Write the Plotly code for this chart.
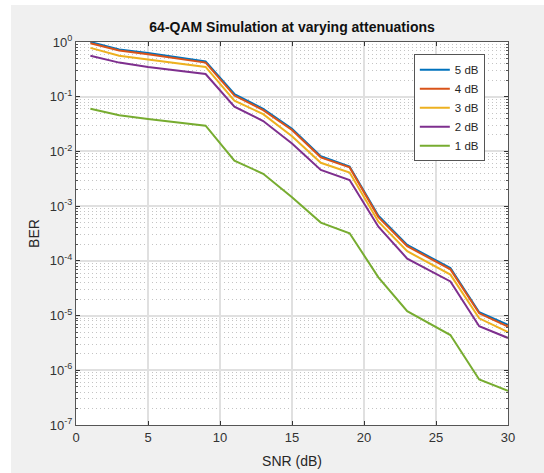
import plotly.graph_objects as go

snr = [1, 3, 5, 9, 11, 13, 15, 17, 19, 21, 23, 26, 28, 30]
ber_5db = [1.0, 0.73, 0.63, 0.44, 0.112, 0.060, 0.026, 0.0082, 0.0053, 6.7e-4, 1.95e-4, 7.4e-5, 1.15e-5, 6.8e-6]
ber_4db = [0.95, 0.70, 0.60, 0.42, 0.105, 0.057, 0.0246, 0.0078, 0.0051, 6.3e-4, 1.85e-4, 7.0e-5, 1.1e-5, 6.3e-6]
ber_3db = [0.78, 0.56, 0.48, 0.35, 0.085, 0.048, 0.019, 0.0062, 0.0041, 5.2e-4, 1.5e-4, 5.6e-5, 8.9e-6, 5.0e-6]
ber_2db = [0.56, 0.42, 0.35, 0.26, 0.066, 0.036, 0.014, 0.0046, 0.0030, 4.2e-4, 1.1e-4, 4.2e-5, 6.4e-6, 3.9e-6]
ber_1db = [0.06, 0.046, 0.039, 0.0295, 0.0068, 0.0039, 0.00145, 5.0e-4, 3.2e-4, 5.0e-5, 1.2e-5, 4.4e-6, 6.8e-7, 4.2e-7]

series_names = ["5 dB", "4 dB", "3 dB", "2 dB", "1 dB"]
series_vals = [ber_5db, ber_4db, ber_3db, ber_2db, ber_1db]
colors = ["#0072BD", "#D95319", "#EDB120", "#7E2F8E", "#77AC30"]

y_exponents = [0, -1, -2, -3, -4, -5, -6, -7]
x_ticks = [0, 5, 10, 15, 20, 25, 30]

FONT = "Liberation Sans, Arial, Helvetica, sans-serif"

fig = go.Figure()
for name, vals, c in zip(series_names, series_vals, colors):
    fig.add_trace(go.Scatter(x=snr, y=vals, mode="lines", name=name,
                             line=dict(color=c, width=2)))

ytickvals = [10.0 ** e for e in y_exponents]
yticktext = ["10<sup>%d</sup>" % e for e in y_exponents]
minor_vals = [k * 10.0 ** e for e in range(-7, 0) for k in range(2, 10)]

fig.update_layout(
    width=544, height=473,
    margin=dict(l=76, r=36, t=42, b=48, autoexpand=False),
    paper_bgcolor="#F0F0F0",
    plot_bgcolor="white",
    font=dict(family=FONT, size=12, color="#262626"),
    title=dict(text="<b>64-QAM Simulation at varying attenuations</b>",
               x=0.5369, xanchor="center", y=0.943, yanchor="middle",
               font=dict(size=14, color="#111")),
    showlegend=True,
    legend=dict(x=0.782, y=0.968, xanchor="left", yanchor="top",
                bgcolor="white", bordercolor="#555", borderwidth=1,
                font=dict(size=11.5, color="#262626"),
                tracegroupgap=0, itemwidth=30),
)

fig.update_xaxes(
    range=[0, 30], tickvals=x_ticks, ticks="inside", ticklen=4,
    tickcolor="#333", showline=True, linecolor="#555", linewidth=1,
    mirror="allticks", showgrid=True, gridcolor="#e0e0e0", gridwidth=1.5,
    zeroline=False, tickfont=dict(size=13, color="#333"), automargin=False,
    title=dict(text="SNR (dB)", font=dict(size=14, color="#262626"), standoff=12),
)
fig.update_yaxes(
    type="log", range=[-7, 0], tickvals=ytickvals, ticktext=yticktext,
    ticks="inside", ticklen=4, tickcolor="#333", showline=True,
    linecolor="#555", linewidth=1, mirror="allticks", showgrid=True,
    gridcolor="#e0e0e0", gridwidth=1.5, zeroline=False,
    tickfont=dict(size=13, color="#333"), automargin=False,
    minor=dict(tickvals=minor_vals, showgrid=True, griddash="1px,3px",
               gridcolor="#c4c4c4", gridwidth=1, ticks="inside",
               ticklen=2, tickcolor="#555"),
    title=dict(text="BER", font=dict(size=14, color="#262626"), standoff=6),
)

# white screenshot border strips on the left and top
fig.add_shape(type="rect", xref="paper", yref="paper",
              x0=-76 / 432, x1=-65 / 432, y0=-48 / 383, y1=(383 + 42) / 383,
              fillcolor="white", line=dict(width=0), layer="below")
fig.add_shape(type="rect", xref="paper", yref="paper",
              x0=-76 / 432, x1=(432 + 36) / 432, y0=(383 + 37) / 383, y1=(383 + 42) / 383,
              fillcolor="white", line=dict(width=0), layer="below")

fig.write_html("out.html")
